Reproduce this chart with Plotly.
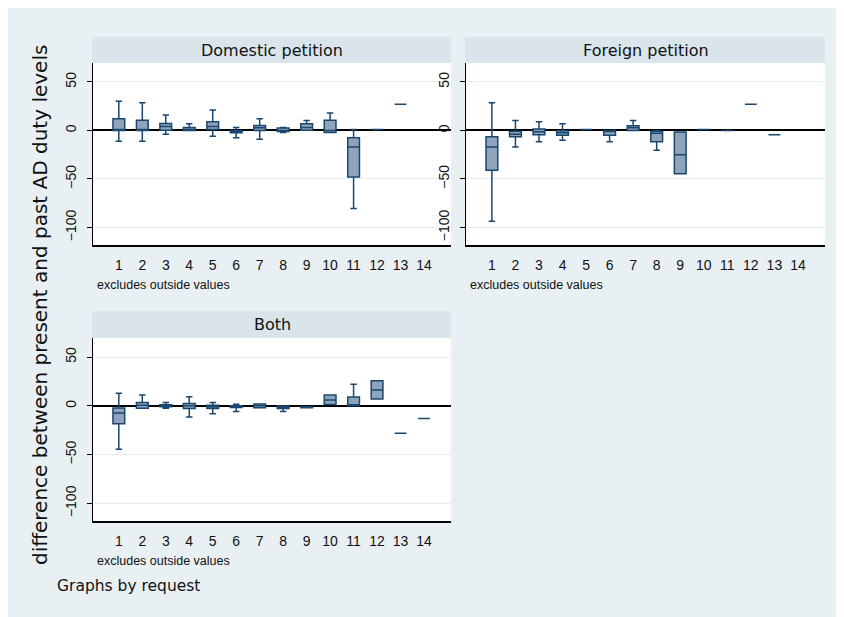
import plotly.graph_objects as go

# ---------------- data ----------------
categories = list(range(1, 15))
tick_text = [str(c) for c in categories]

# Domestic petition (categories 1-13)
dom_x = list(range(1, 14))
dom_q1 = [0, 0, 0.3, 0, 1, -2.4, 0, -1, 0.3, -2, -48, 1, 27]
dom_med = [0, 0, 4, 1, 4, -1, 2.7, 0, 3, 0, -17, 1, 27]
dom_q3 = [12, 10.6, 7.2, 3, 9, 0, 5, 2.5, 7, 10.6, -7.5, 1, 27]
dom_lo = [-11, -11, -4, 0, -6, -7.5, -9, -2, 0.3, -2, -80.5, 1, 27]
dom_hi = [30, 28.5, 16, 7, 21, 3, 12, 3, 10.3, 18, 1, 1, 27]

# Foreign petition (categories 1-13)
for_x = list(range(1, 14))
for_q1 = [-41, -6.5, -4.5, -5, 1, -5, 0, -11.6, -44.5, 1, 0, 27, -4.5]
for_med = [-17, -4, -1.4, -2.4, 1, -1, 2.7, -3, -25, 1, 0, 27, -4.5]
for_q3 = [-6.5, -0.7, 1.4, -0.3, 1, 0, 4.8, -0.7, -1.7, 1, 0, 27, -4.5]
for_lo = [-93.5, -17, -11.6, -10, 1, -11.6, 0, -20.5, -44.5, 1, 0, 27, -4.5]
for_hi = [28.5, 10.3, 9, 7, 1, 0, 10.3, 0, -1.7, 1, 0, 27, -4.5]

# Both (categories 1-14)
both_x = list(range(1, 15))
both_q1 = [-18.4, -2.4, -1, -2.8, -2.8, -1.7, -2, -2.8, -2, 1.4, 0, 7, -28, -13]
both_med = [-7.3, 0.7, 0, 0, -1, -0.5, 0, -1, -1.4, 6, 1, 16.3, -28, -13]
both_q3 = [-2.1, 3.5, 1, 2.4, 0.7, 0, 2, -0.3, -1, 11, 9, 25.7, -28, -13]
both_lo = [-44.4, -2.4, -2.4, -11.5, -8, -5.9, -2, -5.9, -2, 1.4, 0, 7, -28, -13]
both_hi = [12.8, 11, 3.5, 9.4, 3.5, 1.7, 2, -0.3, -1, 11, 22, 25.7, -28, -13]

panel_titles = ["Domestic petition", "Foreign petition", "Both"]
y_ticks = [-100, -50, 0, 50]
y_title = "difference between present and past AD duty levels"
note_text = "excludes outside values"
by_text = "Graphs by request"

# ---------------- styling ----------------
# The page body adds an 8px offset; the figure fills the rest of the window.
OFF = 8
W, H = 844 - OFF, 617 - OFF
BG = "#e8f0f3"
BAR = "#d9e5eb"
LINE = "#1a476f"
FILL = "#8fa4bb"

def px_x(p):
    return (p - OFF) / W

def px_y(p):
    return 1 - (p - OFF) / H

panels = [
    dict(x0=93, x1=451, ytop=63, ybot=245, ttop=37),
    dict(x0=466, x1=825, ytop=63, ybot=245, ttop=37),
    dict(x0=93, x1=451, ytop=338, ybot=521, ttop=311),
]

fig = go.Figure()
series = [
    (dom_x, dom_q1, dom_med, dom_q3, dom_lo, dom_hi),
    (for_x, for_q1, for_med, for_q3, for_lo, for_hi),
    (both_x, both_q1, both_med, both_q3, both_lo, both_hi),
]
for i, (xs, q1, med, q3, lo, hi) in enumerate(series):
    sfx = "" if i == 0 else str(i + 1)
    fig.add_trace(go.Box(
        x=xs, q1=q1, median=med, q3=q3, lowerfence=lo, upperfence=hi,
        boxpoints=False, width=0.5, whiskerwidth=0.55,
        fillcolor=FILL, line=dict(color=LINE, width=1.5),
        xaxis="x" + sfx, yaxis="y" + sfx, showlegend=False, hoverinfo="skip",
    ))

tickfont = dict(family="Liberation Sans, Arial", size=14, color="#111")
shapes = []
annotations = []
layout_axes = {}
for i, p in enumerate(panels):
    sfx = "" if i == 0 else str(i + 1)
    layout_axes["xaxis" + sfx] = dict(
        domain=[px_x(p["x0"]), px_x(p["x1"])], anchor="y" + sfx,
        range=[-0.1, 15.15], tickvals=categories, ticktext=tick_text,
        showline=True, linecolor="black", linewidth=1.5, ticks="",
        showgrid=False, zeroline=False, tickfont=tickfont,
        ticklabelstandoff=6, fixedrange=True,
    )
    layout_axes["yaxis" + sfx] = dict(
        domain=[px_y(p["ybot"]), px_y(p["ytop"])], anchor="x" + sfx,
        range=[-118, 69.5], tickvals=y_ticks, ticks="outside", ticklen=5,
        tickcolor="black", tickwidth=1, showline=True, linecolor="black",
        linewidth=1.3, showgrid=True, gridcolor="#e6eef1", gridwidth=1,
        zeroline=True, zerolinecolor="black", zerolinewidth=1.5,
        tickangle=-90, tickfont=tickfont, ticklabelstandoff=5, fixedrange=True,
    )
    shapes.append(dict(type="rect", xref="paper", yref="paper",
                       x0=px_x(p["x0"] - 1), x1=px_x(p["x1"]),
                       y0=px_y(p["ytop"]), y1=px_y(p["ttop"]),
                       fillcolor=BAR, line=dict(width=0), layer="below"))
    annotations.append(dict(text=panel_titles[i], xref="paper", yref="paper",
                            x=px_x((p["x0"] + p["x1"]) / 2), y=px_y((p["ttop"] + p["ytop"]) / 2),
                            xanchor="center", yanchor="middle", showarrow=False,
                            font=dict(family="DejaVu Sans", size=16, color="#111")))
    annotations.append(dict(text=note_text, xref="paper", yref="paper",
                            x=px_x(p["x0"] + 2), y=px_y(p["ybot"] + 40),
                            xanchor="left", yanchor="middle", showarrow=False,
                            font=dict(family="Liberation Sans", size=12.5, color="#111")))

annotations.append(dict(text=y_title, xref="paper", yref="paper",
                        x=px_x(40), y=px_y(305), textangle=-90,
                        xanchor="center", yanchor="middle", showarrow=False,
                        font=dict(family="DejaVu Sans", size=20, color="#111")))
annotations.append(dict(text=by_text, xref="paper", yref="paper",
                        x=px_x(55), y=px_y(586), xanchor="left", yanchor="middle",
                        showarrow=False,
                        font=dict(family="DejaVu Sans", size=15.5, color="#111")))

fig.update_layout(
    width=W, height=H, margin=dict(l=0, r=0, t=0, b=0),
    paper_bgcolor=BG, plot_bgcolor="white",
    shapes=shapes, annotations=annotations, showlegend=False,
    boxmode="overlay",
    **layout_axes,
)

fig.write_html("out.html")
